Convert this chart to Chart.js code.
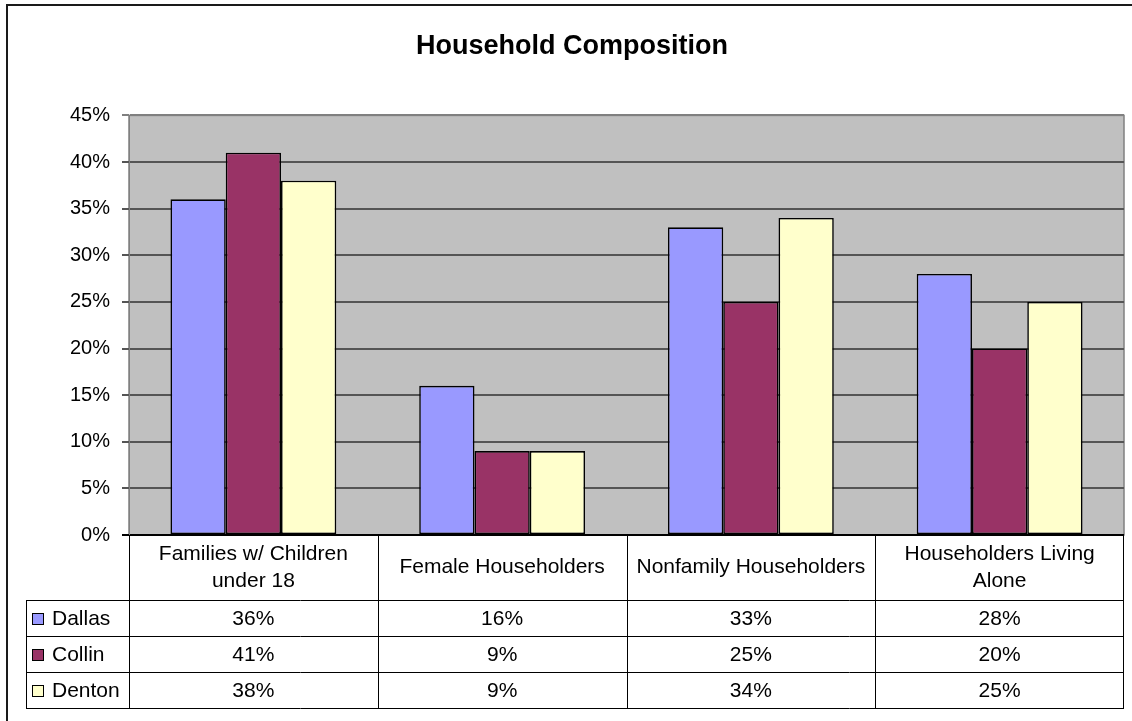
<!DOCTYPE html>
<html>
<head>
<meta charset="utf-8">
<title>Household Composition</title>
<script src="https://cdn.jsdelivr.net/npm/chart.js@4/dist/chart.umd.min.js"></script>
<style>
  html, body { margin: 0; padding: 0; background: #fff; }
  #wrap { width: 1132px; height: 721px; }
</style>
</head>
<body>
<div id="wrap"><canvas id="hhChart" width="1132" height="721"></canvas></div>
<script>
// chart values
const categories = [
  ['Families w/ Children', 'under 18'],
  ['Female Householders'],
  ['Nonfamily Householders'],
  ['Householders Living', 'Alone']
];
const dallas = [36, 16, 33, 28];
const collin = [41, 9, 25, 20];
const denton = [38, 9, 34, 25];
const yTicks = [0, 5, 10, 15, 20, 25, 30, 35, 40, 45];

const FONT = '"Liberation Sans", Arial, sans-serif';

// background, plot frame and the data table under the chart
const tablePlugin = {
  id: 'dataTable',
  beforeDraw(chart) {
    const { ctx, chartArea: a } = chart;
    ctx.save();
    ctx.fillStyle = '#c0c0c0';
    ctx.fillRect(a.left, a.top, a.right - a.left, a.bottom - a.top);
    ctx.strokeStyle = '#808080';
    ctx.lineWidth = 1.5;
    ctx.strokeRect(a.left, a.top, a.right - a.left, a.bottom - a.top);
    // outer chart frame
    ctx.strokeStyle = '#1a1a1a';
    ctx.lineWidth = 2;
    ctx.beginPath();
    ctx.moveTo(7, 721);
    ctx.lineTo(7, 5);
    ctx.lineTo(1132, 5);
    ctx.stroke();
    ctx.restore();
  },
  afterDraw(chart) {
    const { ctx, chartArea: a } = chart;
    const x = chart.scales.x;
    const half = (x.getPixelForValue(1) - x.getPixelForValue(0)) / 2;
    const sets = chart.data.datasets;
    const top = a.bottom;
    const headH = 65, rowH = 36, keyLeft = 26;
    const bottom = top + headH + rowH * sets.length;

    ctx.save();
    ctx.strokeStyle = '#000';
    ctx.lineWidth = 1;

    // horizontal rules
    for (let r = 0; r <= sets.length; r++) {
      const y = Math.round(top + headH + r * rowH) + 0.5;
      ctx.beginPath();
      ctx.moveTo(keyLeft, y);
      ctx.lineTo(a.right, y);
      ctx.stroke();
    }
    // vertical rules
    ctx.beginPath();
    ctx.moveTo(keyLeft + 0.5, top + headH);
    ctx.lineTo(keyLeft + 0.5, bottom + 0.5);
    ctx.stroke();
    chart.data.labels.forEach((lab, i) => {
      const xl = Math.round(x.getPixelForValue(i) - half) + 0.5;
      ctx.beginPath();
      ctx.moveTo(xl, top);
      ctx.lineTo(xl, bottom + 0.5);
      ctx.stroke();
    });
    const xr = Math.round(a.right) - 0.5;
    ctx.beginPath();
    ctx.moveTo(xr, top);
    ctx.lineTo(xr, bottom + 0.5);
    ctx.stroke();

    ctx.fillStyle = '#000';
    ctx.font = '21px ' + FONT;
    ctx.textBaseline = 'middle';

    // category headers
    ctx.textAlign = 'center';
    chart.data.labels.forEach((lines, i) => {
      const cx = x.getPixelForValue(i);
      const cy = top + headH / 2;
      const lh = 27;
      lines.forEach((t, k) => {
        ctx.fillText(t, cx, cy + (k - (lines.length - 1) / 2) * lh);
      });
    });

    // rows
    sets.forEach((ds, r) => {
      const cy = top + headH + r * rowH + rowH / 2 + 1;
      // legend key
      ctx.fillStyle = ds.backgroundColor;
      ctx.fillRect(32, Math.round(cy - 6), 11, 11);
      ctx.strokeStyle = '#000';
      ctx.lineWidth = 1;
      ctx.strokeRect(32.5, Math.round(cy - 6) + 0.5, 11, 11);
      ctx.fillStyle = '#000';
      ctx.textAlign = 'left';
      ctx.fillText(ds.label, 52, cy);
      ctx.textAlign = 'center';
      ds.data.forEach((v, i) => {
        ctx.fillText(v + '%', x.getPixelForValue(i), cy);
      });
    });
    ctx.restore();
  }
};

const ctx = document.getElementById('hhChart').getContext('2d');
const hhChart = new Chart(ctx, {
  type: 'bar',
  data: {
    labels: categories,
    datasets: [
      { label: 'Dallas', data: dallas, backgroundColor: '#9999ff' },
      { label: 'Collin', data: collin, backgroundColor: '#993366' },
      { label: 'Denton', data: denton, backgroundColor: '#ffffcc' }
    ]
  },
  options: {
    responsive: false,
    animation: false,
    layout: { padding: { left: 20, right: 8, top: 0, bottom: 186 } },
    datasets: {
      bar: {
        borderColor: '#000',
        borderWidth: 1.6,
        borderSkipped: false,
        categoryPercentage: 3 / 4.5,
        barPercentage: 1
      }
    },
    plugins: {
      legend: { display: false },
      tooltip: { enabled: false },
      title: {
        display: true,
        text: 'Household Composition',
        color: '#000',
        font: { family: FONT, size: 27, weight: 'bold' },
        padding: { top: 30, bottom: 53 }
      }
    },
    scales: {
      x: {
        display: false
      },
      y: {
        min: 0,
        max: 45,
        afterBuildTicks: (scale) => {
          scale.ticks = yTicks.map(v => ({ value: v }));
        },
        afterFit: (scale) => { scale.width = 109; },
        border: { display: true, color: '#808080', width: 1 },
        grid: {
          color: (c) => c.tick && c.tick.value === 0 ? '#000' : (c.tick && c.tick.value === 45 ? '#808080' : '#555555'),
          lineWidth: 2,
          tickLength: 7,
          drawTicks: true
        },
        ticks: {
          color: '#000',
          padding: 12,
          font: { family: FONT, size: 20 },
          callback: (v) => v + '%'
        }
      }
    }
  },
  plugins: [tablePlugin]
});
</script>
</body>
</html>
